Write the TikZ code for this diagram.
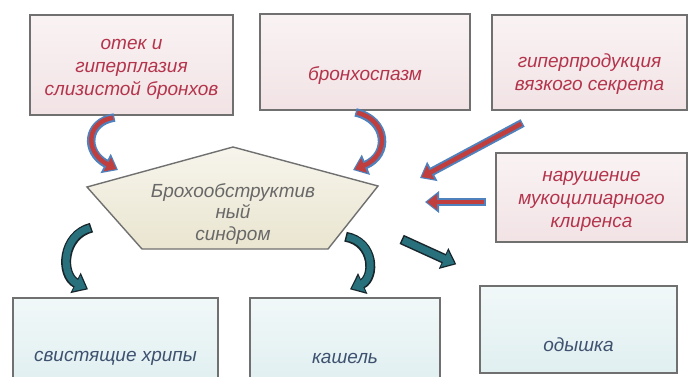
\documentclass[tikz,border=0pt]{standalone}
\usepackage{fontspec}
\setmainfont{Liberation Sans}
\usetikzlibrary{arrows.meta}
\definecolor{boxline}{RGB}{112,112,112}
\definecolor{pinkfill}{RGB}{242,227,229}
\definecolor{pinktext}{RGB}{180,52,76}
\definecolor{cyanfill}{RGB}{224,239,240}
\definecolor{cyantext}{RGB}{62,82,112}
\definecolor{pentfill}{RGB}{234,229,208}
\definecolor{penttext}{RGB}{104,104,104}
\definecolor{arrred}{RGB}{192,62,62}
\definecolor{arrblue}{RGB}{79,129,189}
\definecolor{tealfill}{RGB}{40,112,124}
\definecolor{tealline}{RGB}{24,38,44}
\begin{document}
\begin{tikzpicture}[x=1pt,y=-1pt,
	pinkbox/.style={draw=boxline, line width=1.4pt, inner sep=0pt,
		top color=pinkfill!45!white, bottom color=pinkfill},
	cyanbox/.style={draw=boxline, line width=1.4pt, inner sep=0pt,
		top color=cyanfill!45!white, bottom color=cyanfill},
	pinktxt/.style={text=pinktext, align=center,
		font=\itshape\fontsize{19}{23}\selectfont},
	cyantxt/.style={text=cyantext, align=center,
		font=\itshape\fontsize{19}{23}\selectfont},
	inarrow/.style={draw=arrred, line width=4.5pt, shorten >=2pt,
		-{Triangle[length=10pt,width=15pt]},
		preaction={draw=arrblue, line width=8.5pt, shorten >=0pt, shorten <=-1.5pt,
			-{Triangle[length=14pt,width=21pt]}}},
	outarrow/.style={draw=tealfill, line width=7pt, shorten >=2pt,
		-{Triangle[length=11pt,width=17pt]},
		preaction={draw=tealline, line width=10pt, shorten >=0pt, shorten <=-1.5pt,
			-{Triangle[length=14pt,width=22pt]}}}]
		\clip (0,0) rectangle (690,376);
		\fill[white] (0,0) rectangle (690,376);

		\node[pinkbox, minimum width=203, minimum height=100] (otek) at (131.5,65) {};
		\node[pinkbox, minimum width=210, minimum height=96] (bronch) at (365,62) {};
		\node[pinkbox, minimum width=195, minimum height=95] (giper) at (589.5,62.5) {};
		\node[pinkbox, minimum width=191, minimum height=89] (narush) at (591.5,197.5) {};

		\node[pinktxt] (otekT) at ([yshift=-4]otek.center)
			{отек и\\гиперплазия\\слизистой бронхов};
		\node[pinktxt] (bronchT) at ([yshift=-13]bronch.center) {бронхоспазм};
		\node[pinktxt] (giperT) at ([yshift=-12]giper.center)
			{гиперпродукция\\вязкого секрета};
		\node[pinktxt] (narushT) at ([yshift=-4]narush.center)
			{нарушение\\мукоцилиарного\\клиренса};

		\node[cyanbox, minimum width=205, minimum height=87] (svist) at (115.5,341.5) {};
		\node[cyanbox, minimum width=190, minimum height=87] (kashel) at (345,341.5) {};
		\node[cyanbox, minimum width=197, minimum height=87] (odysh) at (578.5,329.5) {};

		\node[cyantxt] (svistT) at ([yshift=-16.5]svist.center) {свистящие хрипы};
		\node[cyantxt] (kashelT) at ([yshift=-16.5]kashel.center) {кашель};
		\node[cyantxt] (odyshT) at ([yshift=-15.5]odysh.center) {одышка};

		\coordinate (pa) at (233,147);
		\coordinate (pb) at (378,186);
		\coordinate (pc) at (328,249);
		\coordinate (pd) at (142,249);
		\coordinate (pe) at (87,187);
		\draw[draw=boxline, line width=1.4pt, top color=pentfill!40!white, bottom color=pentfill]
			(pa) -- (pb) -- (pc) -- (pd) -- (pe) -- cycle;
		\node[text=penttext, align=center, font=\itshape\fontsize{19}{21.5}\selectfont]
			(synd) at (233,213.5) {Брохообструктив\\ный\\синдром};

		\coordinate (in1) at (118,170);
		\coordinate (in2) at (353,170);
		\coordinate (in3) at (420,178);
		\coordinate (in4) at (425,202);
		\coordinate (out1) at (90,228);
		\coordinate (out2) at (347,237);
		\coordinate (out3) at (403,240);

		\draw[inarrow] ([xshift=-18.5,yshift=-2]otek.south)
			.. controls (86,122) and (84,152) .. (in1);
		\draw[inarrow] ([xshift=-8,yshift=-2]bronch.south)
			.. controls (388,120) and (390,155) .. (in2);
		\draw[inarrow] ([xshift=30,yshift=-13]giper.south west) -- (in3);
		\draw[inarrow] ([xshift=-11,yshift=-4.5]narush.west) -- (in4);

		\draw[outarrow] (out1)
			.. controls (62,235) and (60,275) .. ([xshift=-27.5,yshift=8]svist.north);
		\draw[outarrow] (out2)
			.. controls (375,242) and (375,278) .. ([xshift=5,yshift=8]kashel.north);
		\draw[outarrow] (out3) -- ([xshift=-23,yshift=21]odysh.north west);
	\end{tikzpicture}
\end{document}
